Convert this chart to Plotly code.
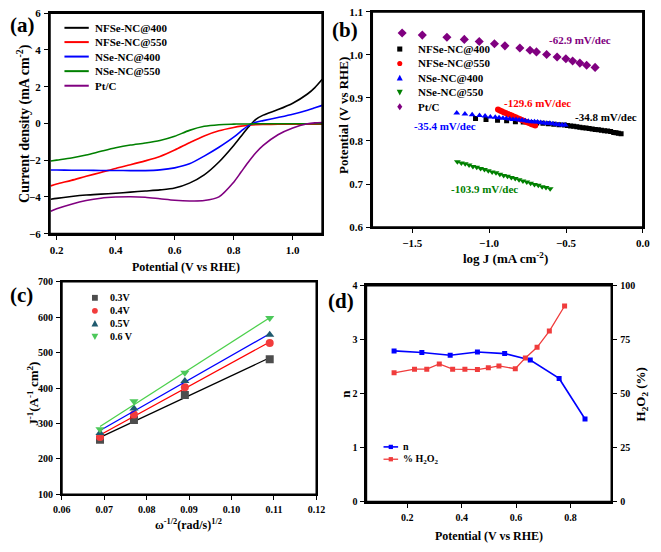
import numpy as np
import plotly.graph_objects as go

W, H = 661, 552
FONT = "Liberation Serif"

# ---------------- data (a) LSV ----------------
lsv_potential = [0.18, 0.2, 0.25, 0.3, 0.35, 0.4, 0.45, 0.5, 0.55, 0.6, 0.65, 0.7, 0.75, 0.8,
                 0.825, 0.85, 0.875, 0.9, 0.95, 1.0, 1.05, 1.075, 1.1]
lsv_nfse400 = [-4.13, -4.08, -3.98, -3.9, -3.85, -3.8, -3.74, -3.68, -3.62, -3.52, -3.25, -2.8, -2.1, -1.2,
               -0.7, -0.2, 0.22, 0.45, 0.75, 1.1, 1.6, 1.95, 2.4]
lsv_nfse550 = [-3.4, -3.3, -3.1, -2.88, -2.67, -2.45, -2.25, -2.04, -1.8, -1.45, -1.05, -0.68, -0.4, -0.22,
               -0.15, -0.1, -0.07, -0.06, -0.05, -0.05, -0.05, -0.05, -0.05]
lsv_nse400 = [-2.54, -2.54, -2.55, -2.55, -2.56, -2.56, -2.57, -2.57, -2.53, -2.42, -2.2, -1.78, -1.3, -0.75,
              -0.42, -0.12, 0.06, 0.15, 0.32, 0.5, 0.72, 0.85, 0.98]
lsv_nse550 = [-2.05, -2.0, -1.88, -1.72, -1.52, -1.33, -1.18, -1.07, -0.93, -0.7, -0.38, -0.16, -0.07, -0.04,
              -0.03, -0.03, -0.02, -0.02, -0.02, -0.02, -0.02, -0.02, -0.02]
lsv_ptc = [-4.78, -4.65, -4.4, -4.2, -4.07, -4.01, -3.99, -4.02, -4.1, -4.18, -4.22, -4.2, -4.0, -3.2,
           -2.65, -2.1, -1.6, -1.2, -0.62, -0.25, -0.02, 0.03, 0.05]
lsv_names = ["NFSe-NC@400", "NFSe-NC@550", "NSe-NC@400", "NSe-NC@550", "Pt/C"]

# ---------------- data (b) Tafel ----------------
taf_nfse400_x = [-1.088, -1.02, -0.945, -0.886, -0.829, -0.778, -0.73, -0.69, -0.65, -0.615, -0.58, -0.545,
                 -0.51, -0.49, -0.47, -0.45, -0.43, -0.41, -0.39, -0.37, -0.35, -0.33, -0.31, -0.29, -0.27,
                 -0.25, -0.23, -0.21, -0.19, -0.175, -0.16, -0.142]
taf_nfse400_y = [0.852, 0.850, 0.848, 0.847, 0.845, 0.844, 0.843, 0.842, 0.841, 0.840, 0.839, 0.838,
                 0.837, 0.836, 0.835, 0.834, 0.833, 0.832, 0.831, 0.830, 0.829, 0.828, 0.827, 0.826, 0.825,
                 0.824, 0.823, 0.822, 0.820, 0.819, 0.818, 0.817]
taf_nfse550_x = [-0.942, -0.93, -0.918, -0.905, -0.892, -0.879, -0.866, -0.853, -0.840, -0.827, -0.814,
                 -0.801, -0.788, -0.775, -0.762, -0.749, -0.736, -0.723, -0.711, -0.70]
taf_nfse550_y = [0.873, 0.871, 0.869, 0.867, 0.865, 0.863, 0.861, 0.859, 0.857, 0.855, 0.853,
                 0.851, 0.849, 0.847, 0.845, 0.843, 0.841, 0.839, 0.838, 0.836]
taf_nse400_x = [-1.21, -1.157, -1.11, -1.062, -1.026, -0.992, -0.96, -0.935, -0.91, -0.888, -0.866, -0.845,
                -0.825, -0.805, -0.785, -0.765, -0.745, -0.725, -0.705, -0.685, -0.665, -0.645, -0.625,
                -0.605, -0.585, -0.565, -0.545, -0.525, -0.505]
taf_nse400_y = [0.865, 0.863, 0.861, 0.859, 0.858, 0.856, 0.855, 0.854, 0.853, 0.852, 0.851, 0.850,
                0.850, 0.849, 0.848, 0.847, 0.846, 0.845, 0.845, 0.844, 0.843, 0.842, 0.841,
                0.841, 0.840, 0.839, 0.838, 0.837, 0.837]
taf_nse550_x = [-1.206, -1.18, -1.155, -1.13, -1.105, -1.08, -1.055, -1.03, -1.005, -0.98, -0.955, -0.93,
                -0.905, -0.88, -0.855, -0.83, -0.805, -0.78, -0.755, -0.73, -0.705, -0.68, -0.655, -0.63, -0.603]
taf_nse550_y = [0.752, 0.749, 0.747, 0.744, 0.741, 0.739, 0.736, 0.734, 0.731, 0.728, 0.726, 0.723,
                0.720, 0.718, 0.715, 0.713, 0.710, 0.707, 0.705, 0.702, 0.699, 0.697, 0.694, 0.692, 0.689]
taf_ptc_x = [-1.565, -1.434, -1.274, -1.161, -1.064, -0.965, -0.897, -0.800, -0.734, -0.692, -0.626,
             -0.558, -0.501, -0.457, -0.410, -0.366, -0.311]
taf_ptc_y = [1.051, 1.046, 1.041, 1.036, 1.031, 1.026, 1.021, 1.016, 1.011, 1.007, 1.001,
             0.995, 0.991, 0.986, 0.981, 0.976, 0.971]
taf_slopes = ["-62.9 mV/dec", "-129.6 mV/dec", "-34.8 mV/dec", "-35.4 mV/dec", "-103.9 mV/dec"]

# ---------------- data (c) K-L ----------------
kl_omega = [0.069, 0.077, 0.089, 0.109]
kl_03 = [254, 310, 380, 481]
kl_04 = [262, 325, 402, 527]
kl_05 = [273, 342, 420, 550]
kl_06 = [284, 363, 443, 597]
kl_names = ["0.3V", "0.4V", "0.5V", "0.6 V"]

# ---------------- data (d) n and H2O2 ----------------
n_potential = [0.152, 0.254, 0.358, 0.458, 0.558, 0.652, 0.758, 0.853]
n_values = [2.79, 2.76, 2.71, 2.77, 2.74, 2.62, 2.28, 1.53]
h2o2_potential = [0.152, 0.227, 0.272, 0.318, 0.367, 0.412, 0.458, 0.498, 0.537, 0.597, 0.634,
                  0.677, 0.722, 0.778]
h2o2_values = [59.6, 61.3, 61.3, 63.7, 61.3, 61.3, 61.1, 61.9, 62.8, 61.5, 66.5, 71.4, 78.9, 90.5]


def X(p):
    return p / W


def Y(p):
    return 1 - p / H


fig = go.Figure()

# (a)
cols_a = ["#000000", "#ff0000", "#0000ff", "#008000", "#800080"]
for name, ys, c in zip(lsv_names, [lsv_nfse400, lsv_nfse550, lsv_nse400, lsv_nse550, lsv_ptc], cols_a):
    fig.add_trace(go.Scatter(x=lsv_potential, y=ys, mode="lines", name=name,
                             line=dict(color=c, width=1.6, shape="spline", smoothing=0.8),
                             xaxis="x", yaxis="y", showlegend=False))

# (b)
tafel = [
    (taf_nfse400_x, taf_nfse400_y, "#000000", "square", 5),
    (taf_nfse550_x, taf_nfse550_y, "#ff0000", "circle", 6),
    (taf_nse400_x, taf_nse400_y, "#0000ff", "triangle-up", 6),
    (taf_nse550_x, taf_nse550_y, "#008000", "triangle-down", 6),
    (taf_ptc_x, taf_ptc_y, "#800080", "diamond", 7),
]
for (xs, ys, c, sym, sz), name in zip(tafel, lsv_names):
    fig.add_trace(go.Scatter(x=xs, y=ys, mode="markers", name=name,
                             marker=dict(color=c, symbol=sym, size=sz, line=dict(width=0)),
                             xaxis="x2", yaxis="y2", showlegend=False))

# (c)
kl_sets = [
    (kl_03, "#4d4d4d", "square", "#000000"),
    (kl_04, "#f23c3c", "circle", "#ff0000"),
    (kl_05, "#1f5a6e", "triangle-up", "#0000ff"),
    (kl_06, "#4cc85a", "triangle-down", "#4cd04c"),
]
xo = np.array(kl_omega)
for (ys, mc, sym, lc), name in zip(kl_sets, kl_names):
    k, b = np.polyfit(xo, np.array(ys), 1)
    fx = np.array([xo.min(), xo.max()])
    fig.add_trace(go.Scatter(x=fx, y=k * fx + b, mode="lines", line=dict(color=lc, width=1.3),
                             xaxis="x3", yaxis="y3", showlegend=False, hoverinfo="skip"))
    fig.add_trace(go.Scatter(x=kl_omega, y=ys, mode="markers", name=name,
                             marker=dict(color=mc, symbol=sym, size=8, line=dict(width=0)),
                             xaxis="x3", yaxis="y3", showlegend=False))

# (d)
fig.add_trace(go.Scatter(x=n_potential, y=n_values, mode="lines+markers", name="n",
                         line=dict(color="#0000ff", width=1.6),
                         marker=dict(symbol="square", size=5, color="#0000ff"),
                         xaxis="x4", yaxis="y4", showlegend=False))
fig.add_trace(go.Scatter(x=h2o2_potential, y=h2o2_values, mode="lines+markers", name="% H2O2",
                         line=dict(color="#f03c3c", width=1.3),
                         marker=dict(symbol="square", size=5, color="#f03c3c"),
                         xaxis="x4", yaxis="y5", showlegend=False))

TF = dict(family=FONT, size=11, color="black", weight="bold")
TF10 = dict(family=FONT, size=10, color="black", weight="bold")


def axis(domain, rng, dtick, fmt, anchor, tf=TF, tick0=None):
    d = dict(domain=domain, range=rng, dtick=dtick, tickformat=fmt, anchor=anchor,
             showline=True, linecolor="black", linewidth=1.8, mirror=True,
             ticks="outside", ticklen=4, tickwidth=1.4, tickcolor="black",
             showgrid=False, zeroline=False, tickfont=tf, ticklabelstandoff=1)
    if tick0 is not None:
        d["tick0"] = tick0
    return d


layout = dict(
    width=W, height=H, margin=dict(l=0, r=0, t=0, b=0),
    paper_bgcolor="white", plot_bgcolor="white", showlegend=False,
    xaxis=axis([X(42), X(322)], [0.177, 1.1], 0.2, ".1f", "y", tick0=0.2),
    yaxis=axis([Y(232.7), Y(7.3)], [-6, 6], 2, "d", "x"),
    xaxis2=axis([X(373.3), X(651.7)], [-1.76, 0], 0.5, ".1f", "y2"),
    yaxis2=axis([Y(226), Y(6)], [0.6, 1.1], 0.1, ".1f", "x2"),
    xaxis3=axis([X(54.3), X(316)], [0.06, 0.12], 0.01, ".2f", "y3", tf=TF10),
    yaxis3=axis([Y(499.3), Y(281.7)], [100, 700], 100, "d", "x3", tf=TF10),
    xaxis4=axis([X(367.3), X(619.3)], [0.05, 0.95], 0.2, ".1f", "y4", tf=TF10, tick0=0.2),
    yaxis4=axis([Y(506.7), Y(285.7)], [0, 4], 1, "d", "x4", tf=TF10),
    yaxis5=dict(overlaying="y4", side="right", anchor="x4", range=[0, 100], dtick=25,
                showline=True, linecolor="black", linewidth=1.8, ticks="outside", ticklen=4,
                tickwidth=1.4, tickcolor="black", showgrid=False, zeroline=False, tickfont=TF10,
                ticklabelstandoff=1),
)
fig.update_layout(**layout)

ann = []
shapes = []

# panel frames (box around each plot area)
for xa, ya in [("x", "y"), ("x2", "y2"), ("x3", "y3"), ("x4", "y4")]:
    shapes.append(dict(type="rect", xref=f"{xa} domain", yref=f"{ya} domain", x0=0, x1=1, y0=0, y1=1,
                       line=dict(color="black", width=1.8), fillcolor="rgba(0,0,0,0)", layer="above"))


def txt(t, x, y, size, color="black", angle=0, xanchor="center"):
    ann.append(dict(text=t, x=X(x), y=Y(y), xref="paper", yref="paper", showarrow=False,
                    xanchor=xanchor, yanchor="middle", textangle=angle,
                    font=dict(family=FONT, size=size, color=color, weight="bold")))


# panel labels
txt("(a)", 14, 19.5, 21)
txt("(b)", 345, 25, 21)
txt("(c)", 13, 295, 21)
txt("(d)", 341, 301.7, 21)

# axis titles
txt("Potential (V vs RHE)", 181.7, 266.7, 12)
txt("Current density (mA cm<sup>-2</sup>)", 15, 120, 14, angle=-90)
txt("log J (mA cm<sup>-2</sup>)", 510, 258, 13)
txt("Potential (V vs RHE)", 344, 111.7, 13, angle=-90)
txt("ω<sup>-1/2</sup>(rad/s)<sup>1/2</sup>", 185, 530, 12)
txt("J<sup>-1</sup>(A<sup>-1</sup> cm<sup>2</sup>)", 25, 396, 13, angle=-90)
txt("Potential (V vs RHE)", 493, 542, 12)
txt("n", 345, 396.7, 13, angle=-90)
txt("H<sub>2</sub>O<sub>2</sub> (%)", 650, 396.7, 13, angle=-90)

# (b) slope labels
txt(taf_slopes[0], 586.7, 34.3, 11, color="#800080")
txt(taf_slopes[1], 543.3, 99.3, 11, color="#ff0000")
txt(taf_slopes[2], 613.3, 113.3, 11, color="#000000")
txt(taf_slopes[3], 448.3, 122.7, 11, color="#0000ff")
txt(taf_slopes[4], 489.3, 187.3, 11, color="#008000")


def line_key(x0, x1, y, c, w=2):
    shapes.append(dict(type="line", xref="paper", yref="paper", x0=X(x0), x1=X(x1), y0=Y(y), y1=Y(y),
                       line=dict(color=c, width=w)))


def marker_key(cx, cy, c, sym, r=3):
    if sym == "square":
        shapes.append(dict(type="rect", xref="paper", yref="paper", x0=X(cx - r), x1=X(cx + r),
                           y0=Y(cy + r), y1=Y(cy - r), fillcolor=c, line=dict(width=0)))
    elif sym == "circle":
        shapes.append(dict(type="circle", xref="paper", yref="paper", x0=X(cx - r), x1=X(cx + r),
                           y0=Y(cy + r), y1=Y(cy - r), fillcolor=c, line=dict(width=0)))
    else:
        if sym == "triangle-up":
            pts = [(cx - r - 0.5, cy + r), (cx + r + 0.5, cy + r), (cx, cy - r - 0.5)]
        elif sym == "triangle-down":
            pts = [(cx - r - 0.5, cy - r), (cx + r + 0.5, cy - r), (cx, cy + r + 0.5)]
        else:
            pts = [(cx, cy - r - 1), (cx + r, cy), (cx, cy + r + 1), (cx - r, cy)]
        path = "M " + " L ".join(f"{X(px)} {Y(py)}" for px, py in pts) + " Z"
        shapes.append(dict(type="path", xref="paper", yref="paper", path=path, fillcolor=c,
                           line=dict(width=0)))


# legend (a)
rows_a = [22.3, 36.9, 51.7, 66.6, 81.5]
for name, c, ry in zip(lsv_names, cols_a, rows_a):
    line_key(57, 82, ry, c)
    txt(name, 86, ry, 11, xanchor="left")

# legend (b)
rows_b = [44, 58.7, 73.5, 88.3, 103]
for (xs, ys, c, sym, sz), name, ry in zip(tafel, lsv_names, rows_b):
    marker_key(401.7, ry, c, sym, r=2.6)
    txt(name, 418, ry, 11, xanchor="left")

# legend (c)
rows_c = [298.3, 311.6, 324.6, 338]
for (ys, mc, sym, lc), name, ry in zip(kl_sets, kl_names, rows_c):
    marker_key(88.3, ry, mc, sym, r=3)
    txt(name, 101.7, ry, 10, xanchor="left")

# legend (d)
line_key(385, 400, 450.7, "#0000ff", 1.6)
marker_key(392.5, 450.7, "#0000ff", "square", r=2.2)
txt("n", 403, 450.3, 10, xanchor="left")
line_key(385, 400, 463.3, "#f03c3c", 1.3)
marker_key(392.5, 463.3, "#f03c3c", "square", r=2.2)
txt("% H<sub>2</sub>O<sub>2</sub>", 403, 463.3, 10, xanchor="left")

fig.update_layout(annotations=ann, shapes=shapes)
fig.write_html("out.html", config={"displayModeBar": False},
               post_script="document.body.style.margin='0';document.body.style.padding='0';"
                           "document.body.style.overflow='hidden';")
